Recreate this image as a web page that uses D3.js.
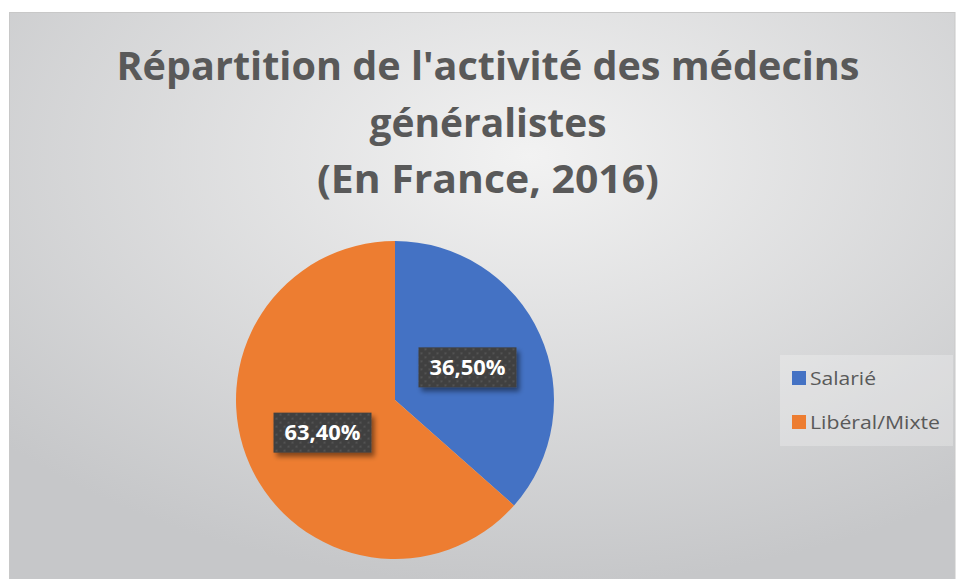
<!DOCTYPE html>
<html>
<head>
<meta charset="utf-8">
<script src="https://cdn.jsdelivr.net/npm/d3@7"></script>
<style>
  body { margin: 0; background: #fff; }
  svg { display: block; }
</style>
</head>
<body>
<div id="chart"></div>
<script>
// chart values
const categories = ["Salarié", "Libéral/Mixte"];
const values = [36.5, 63.4];
const valueLabels = ["36,50%", "63,40%"];
const colors = ["#4472c4", "#ed7d31"];
const titleLines = ["Répartition de l'activité des médecins", "généralistes", "(En France, 2016)"];

let width = 959,
    height = 579,
    frame = { left: 9.5, top: 12.5, right: 955, bottom: 585 },
    cx = 395, cy = 400, radius = 159;

let svg = d3.select("#chart")
  .append("svg")
    .attr("width", width)
    .attr("height", height)
    .attr("viewBox", [0, 0, width, height].join(" "));

let defs = svg.append("defs");

// background gradient, light in the upper centre
let grad = defs.append("radialGradient")
    .attr("id", "bg")
    .attr("cx", "55%").attr("cy", "25%").attr("r", "75%");
grad.append("stop").attr("offset", "0%").attr("stop-color", "#f2f2f2");
grad.append("stop").attr("offset", "100%").attr("stop-color", "#c6c7c9");

// dotted texture for the data label boxes
let pat = defs.append("pattern")
    .attr("id", "dots")
    .attr("width", 8).attr("height", 8)
    .attr("patternUnits", "userSpaceOnUse");
pat.append("rect").attr("width", 8).attr("height", 8).attr("fill", "#404040");
pat.append("circle").attr("cx", 2).attr("cy", 2).attr("r", 1).attr("fill", "#595959");
pat.append("circle").attr("cx", 6).attr("cy", 6).attr("r", 1).attr("fill", "#595959");

let shadow = defs.append("filter").attr("id", "shadow")
    .attr("x", "-20%").attr("y", "-20%").attr("width", "150%").attr("height", "160%");
shadow.append("feDropShadow")
    .attr("dx", 3).attr("dy", 4).attr("stdDeviation", 2.5)
    .attr("flood-color", "#000").attr("flood-opacity", 0.45);

svg.append("rect")
    .attr("x", frame.left).attr("y", frame.top)
    .attr("width", frame.right - frame.left)
    .attr("height", frame.bottom - frame.top)
    .attr("fill", "url(#bg)")
    .attr("stroke", "#c8c8c8")
    .attr("stroke-width", 1);

// title
let titleY = [80, 137, 193];
let titleWidths = [743, 237, 342];
svg.append("g")
  .selectAll("text")
  .data(titleLines)
  .join("text")
    .attr("x", 488)
    .attr("y", (d, i) => titleY[i])
    .attr("text-anchor", "middle")
    .attr("font-family", "'Open Sans', sans-serif")
    .attr("font-weight", "bold")
    .attr("font-size", 40)
    .attr("fill", "#595959")
    .attr("textLength", (d, i) => titleWidths[i])
    .attr("lengthAdjust", "spacingAndGlyphs")
    .text(d => d);

// pie
let pie = d3.pie().sort(null).value(d => d)
let arcs = pie(values);
let arc = d3.arc().innerRadius(0).outerRadius(radius);
let labelArc = d3.arc().innerRadius(radius * 0.5).outerRadius(radius * 0.5);

let g = svg.append("g").attr("transform", "translate(" + cx + "," + cy + ")");

g.selectAll("path")
  .data(arcs)
  .join("path")
    .attr("d", arc)
    .attr("fill", (d, i) => colors[i]);

// data labels
let labels = g.selectAll(".lbl")
  .data(arcs)
  .join("g")
    .attr("class", "lbl")
    .attr("transform", d => "translate(" + labelArc.centroid(d) + ")");

labels.append("rect")
    .attr("x", -49).attr("y", -20)
    .attr("width", 98).attr("height", 40)
    .attr("fill", "url(#dots)")
    .attr("filter", "url(#shadow)");

labels.append("text")
    .attr("text-anchor", "middle")
    .attr("dy", "0.36em")
    .attr("font-family", "'Open Sans', sans-serif")
    .attr("font-weight", "bold")
    .attr("font-size", 21)
    .attr("fill", "#fff")
    .attr("textLength", 76)
    .attr("lengthAdjust", "spacingAndGlyphs")
    .text((d, i) => valueLabels[i]);

// legend
let legendWidths = [66, 130];
let legend = svg.append("g").attr("transform", "translate(780,355)");
legend.append("rect")
    .attr("width", 173).attr("height", 91)
    .attr("fill", "#fff").attr("fill-opacity", 0.25);

let items = legend.selectAll(".item")
  .data(categories)
  .join("g")
    .attr("class", "item")
    .attr("transform", (d, i) => "translate(12," + (23 + i * 44) + ")");

items.append("rect")
    .attr("y", -7).attr("width", 14).attr("height", 14)
    .attr("fill", (d, i) => colors[i]);

items.append("text")
    .attr("x", 18)
    .attr("dy", "0.36em")
    .attr("font-family", "'Open Sans', sans-serif")
    .attr("font-size", 19)
    .attr("fill", "#595959")
    .attr("textLength", (d, i) => legendWidths[i])
    .attr("lengthAdjust", "spacingAndGlyphs")
    .text(d => d);
</script>
</body>
</html>
